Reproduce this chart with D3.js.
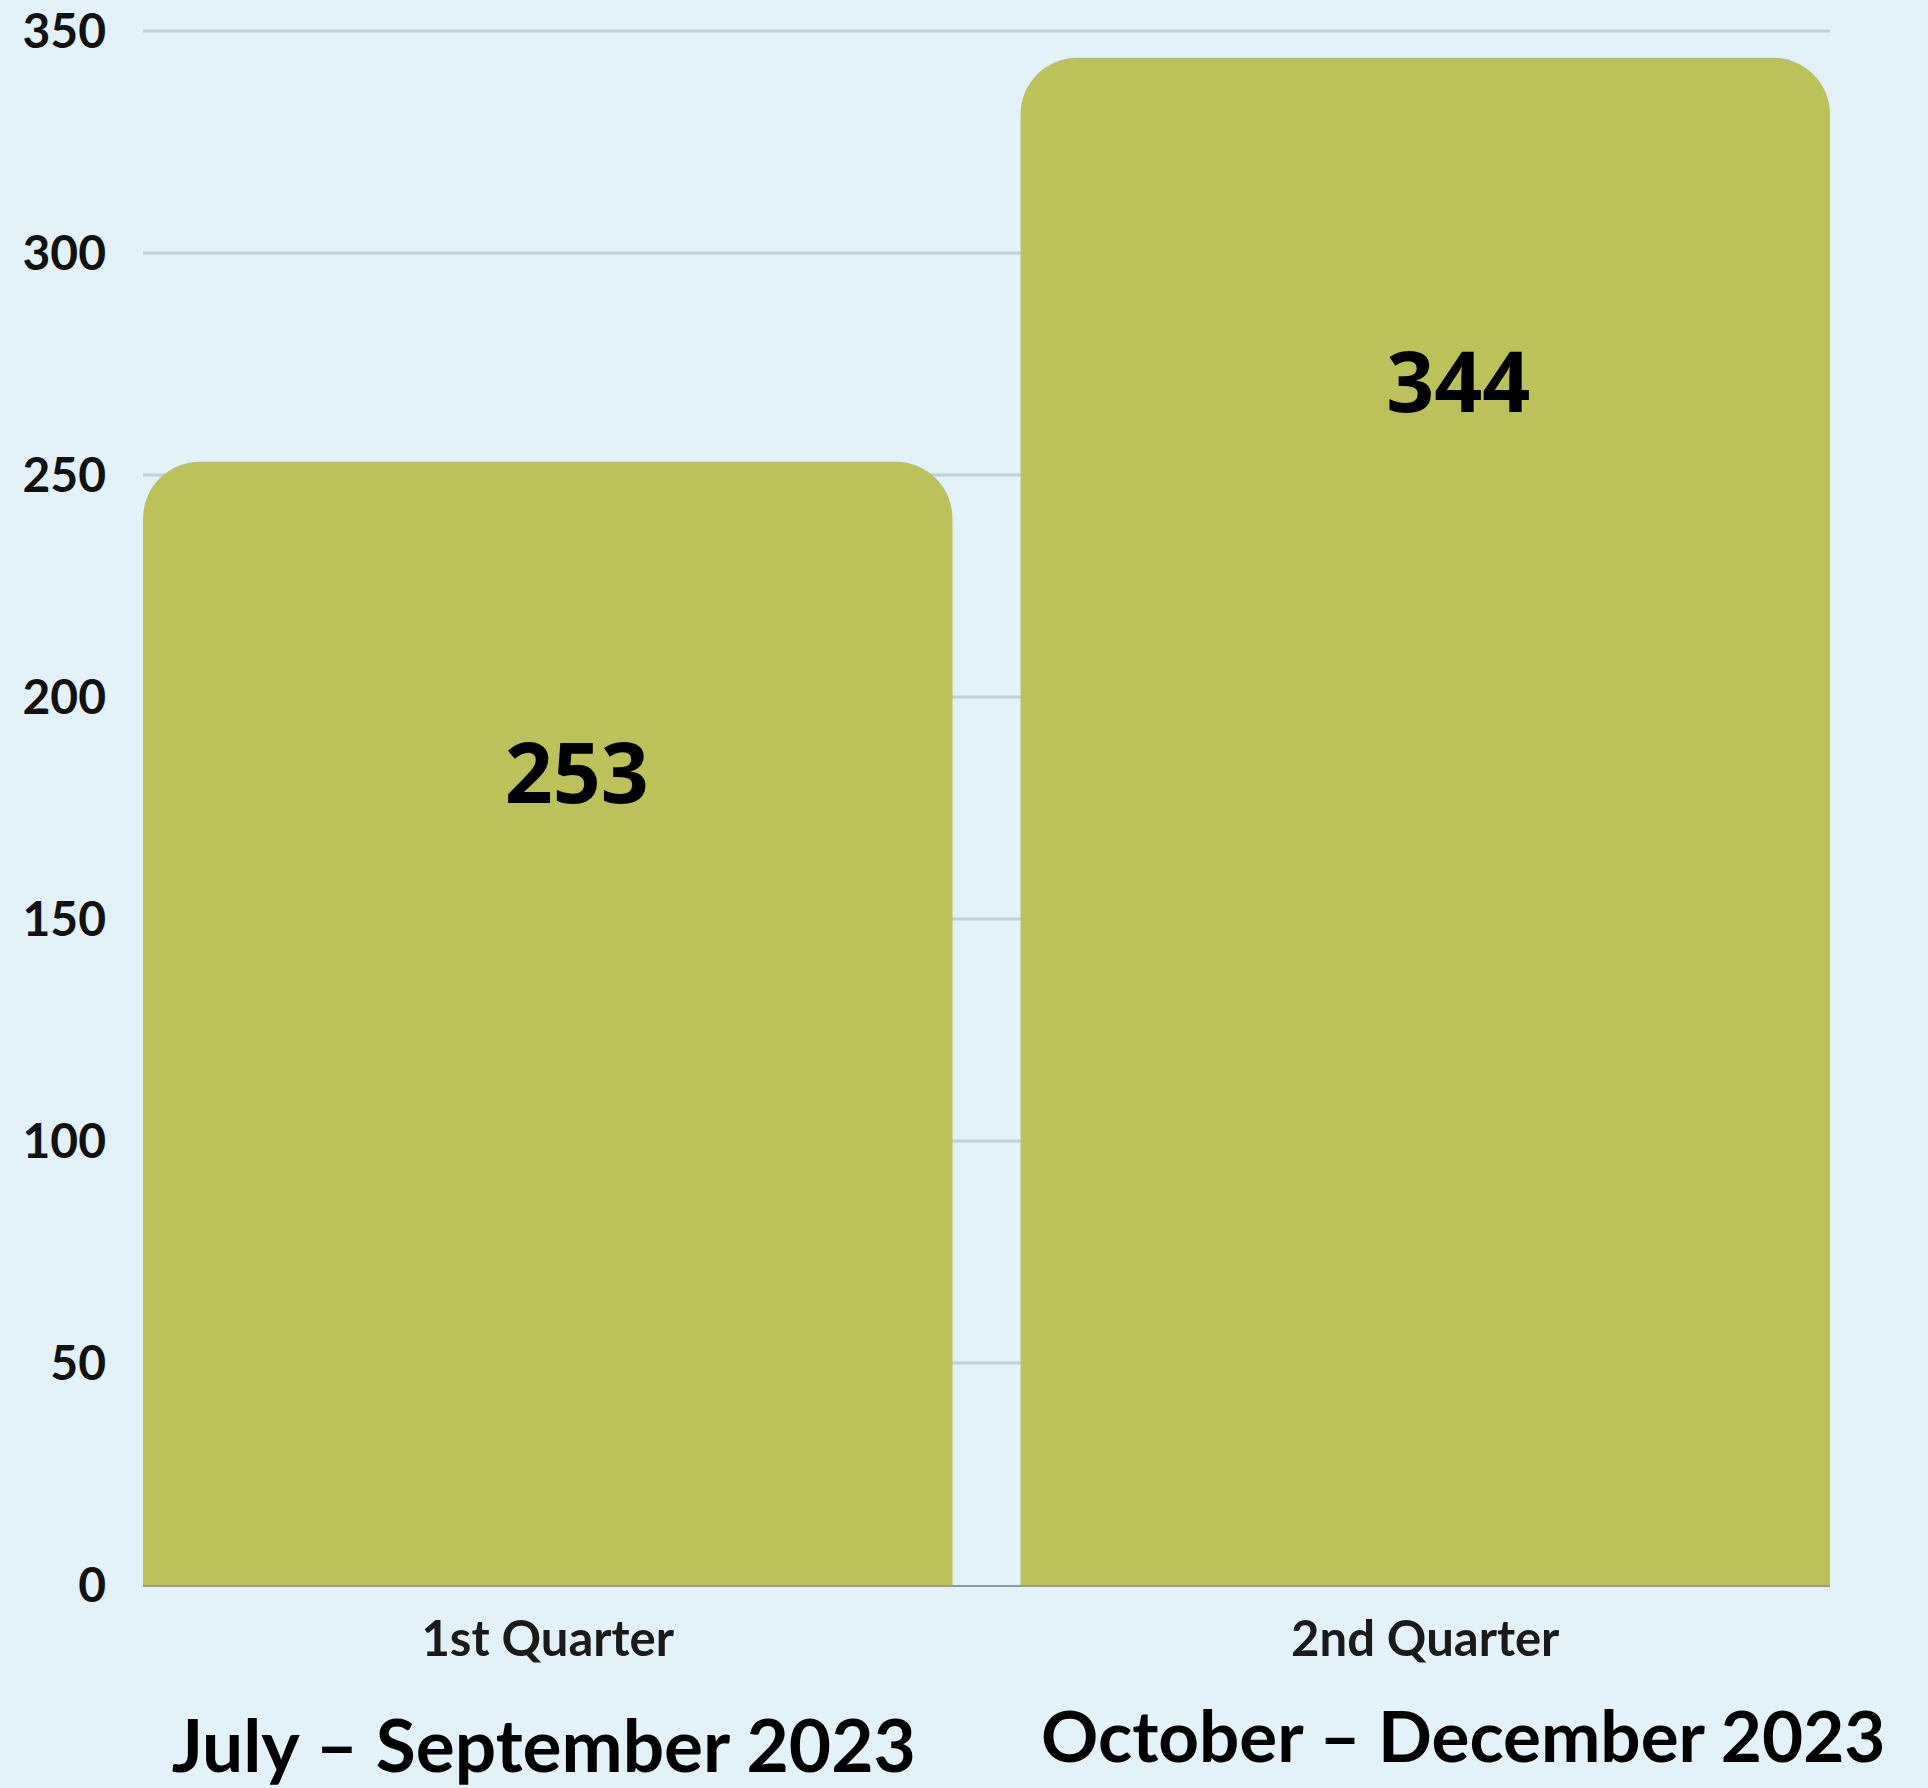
<!DOCTYPE html>
<html><head><meta charset="utf-8">
<script src="https://cdn.jsdelivr.net/npm/d3@7"></script>
<style>
html,body{margin:0;padding:0;background:#e3f1f8;}
svg{display:block;}
</style></head>
<body>
<svg id="chart" width="1928" height="1788"></svg>
<script>
const categories = ["1st Quarter", "2nd Quarter"];
const periods = ["July – September 2023", "October – December 2023"];
const values = [253, 344];
const yTicks = [0, 50, 100, 150, 200, 250, 300, 350];

(function () {
const W = 1928, H = 1788;
const mLeft = 143, mRight = 1830, mTop = 31, mBottom = 1585;
const svg = d3.select("#chart");
svg.append("rect").attr("width", W).attr("height", H).attr("fill", "#e3f1f8");

const x = d3.scaleBand().domain(categories).range([mLeft, mRight]).paddingInner(0.0775).paddingOuter(0);
const y = d3.scaleLinear().domain([0, 350]).range([mBottom, mTop]);

// gridlines
svg.append("g").selectAll("line").data(yTicks.filter(t => t > 0)).join("line")
  .attr("x1", mLeft).attr("x2", mRight)
  .attr("y1", d => y(d)).attr("y2", d => y(d))
  .attr("stroke", "#c5cfd6").attr("stroke-width", 3);

// y tick labels
svg.append("g").selectAll("text").data(yTicks).join("text")
  .attr("x", 106).attr("y", d => y(d)).attr("dy", "0.36em")
  .attr("text-anchor", "end")
  .attr("font-family", "Lato, 'Open Sans', sans-serif").attr("font-weight", 700)
  .attr("font-size", 48).attr("fill", "#111")
  .text(d => d);

// bars with rounded top corners
const r = 57;
function barPathArc(x0, x1, yt, yb) {
  return `M${x0},${yb} L${x0},${yt + r} A${r},${r} 0 0 1 ${x0 + r},${yt} L${x1 - r},${yt} A${r},${r} 0 0 1 ${x1},${yt + r} L${x1},${yb} Z`;
}
svg.append("g").selectAll("path").data(values).join("path")
  .attr("d", (d, i) => barPathArc(x(categories[i]), x(categories[i]) + x.bandwidth(), y(d), y(0)))
  .attr("fill", "#bcc159");

// baseline
svg.append("line").attr("x1", mLeft).attr("x2", mRight).attr("y1", y(0) + 1).attr("y2", y(0) + 1)
  .attr("stroke", "#8f9ba3").attr("stroke-width", 2);

// value labels
const labelDx = [29, 33], labelDy = [341, 354];
svg.append("g").selectAll("text").data(values).join("text")
  .attr("x", (d, i) => x(categories[i]) + x.bandwidth() / 2 + labelDx[i])
  .attr("y", (d, i) => y(d) + labelDy[i])
  .attr("text-anchor", "middle")
  .attr("font-family", "'Open Sans', sans-serif").attr("font-weight", 700)
  .attr("font-size", 84).attr("fill", "#000")
  .text(d => d);

// category labels
svg.append("g").selectAll("text").data(categories).join("text")
  .attr("x", d => x(d) + x.bandwidth() / 2)
  .attr("y", 1656)
  .attr("text-anchor", "middle")
  .attr("font-family", "Lato, sans-serif").attr("font-weight", 700)
  .attr("font-size", 49).attr("fill", "#1a1a1a")
  .text(d => d);

// period labels
const periodDx = [-4, 38], periodY = [1772, 1762], periodSize = [73, 71];
svg.append("g").selectAll("text").data(periods).join("text")
  .attr("x", (d, i) => x(categories[i]) + x.bandwidth() / 2 + periodDx[i])
  .attr("y", (d, i) => periodY[i])
  .attr("text-anchor", "middle")
  .attr("font-family", "Lato, sans-serif").attr("font-weight", 700)
  .attr("font-size", (d, i) => periodSize[i]).attr("fill", "#000")
  .text(d => d);
})();
</script>
</body></html>
